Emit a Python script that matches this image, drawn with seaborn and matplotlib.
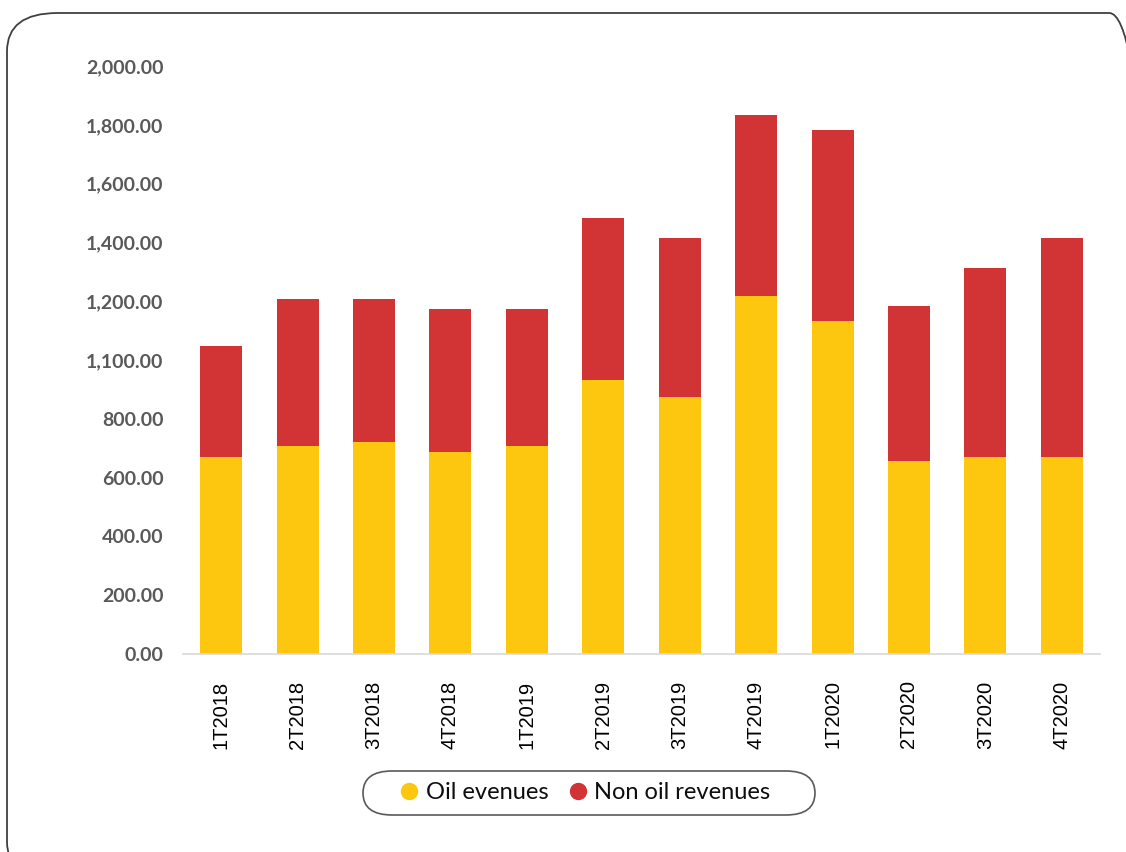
import matplotlib
matplotlib.use("Agg")
import matplotlib.pyplot as plt
from matplotlib.patches import FancyBboxPatch
from matplotlib.lines import Line2D
import seaborn as sns
import pandas as pd

# Quarterly revenues
quarters = ["1T2018", "2T2018", "3T2018", "4T2018",
            "1T2019", "2T2019", "3T2019", "4T2019",
            "1T2020", "2T2020", "3T2020", "4T2020"]
oil_revenues = [670, 707, 721, 687, 707, 932, 874, 1218, 1133, 656, 670, 670]
non_oil_revenues = [378, 500, 486, 486, 466, 551, 541, 615, 649, 528, 643, 745]

y_ticks = [0, 200, 400, 600, 800, 1000, 1200, 1400, 1600, 1800, 2000]
y_tick_labels = ["0.00", "200.00", "400.00", "600.00", "800.00", "1,100.00",
                 "1,200.00", "1,400.00", "1,600.00", "1,800.00", "2,000.00"]

series_names = ["Oil evenues", "Non oil revenues"]
oil_color = "#FDC60F"
non_oil_color = "#D23335"

df = pd.DataFrame({
    "quarter": quarters,
    "oil": oil_revenues,
    "non_oil": non_oil_revenues,
})
df["total"] = df["oil"] + df["non_oil"]

sns.set_style("white")
fig = plt.figure(figsize=(11.26, 8.52), dpi=100)
ax = fig.add_axes([0.1625, 0.2324, 0.8144, 0.6901])

# Stacked bars: full total in red, oil share drawn over it in yellow
sns.barplot(data=df, x="quarter", y="total", color=non_oil_color,
            width=0.55, saturation=1, linewidth=0, ax=ax, order=quarters)
sns.barplot(data=df, x="quarter", y="oil", color=oil_color,
            width=0.55, saturation=1, linewidth=0, ax=ax, order=quarters)

ax.set_ylim(0, 2000)
ax.set_xlim(-0.5, len(quarters) - 0.5)
ax.set_yticks(y_ticks)
ax.set_yticklabels(y_tick_labels, fontfamily="Lato", fontweight="bold",
                   fontsize=14, color="#595959")
ax.set_xticks(range(len(quarters)))
ax.set_xticklabels(quarters, rotation=90, fontfamily="Liberation Sans",
                   fontsize=14.5, color="#000000")
ax.tick_params(axis="both", length=0)
ax.tick_params(axis="y", pad=14)
ax.tick_params(axis="x", pad=19)
ax.set_xlabel("")
ax.set_ylabel("")
for side in ["top", "right", "left"]:
    ax.spines[side].set_visible(False)
ax.spines["bottom"].set_color("#D9D9D9")
ax.spines["bottom"].set_linewidth(1.2)
ax.grid(False)

# Legend without frame; pill-shaped outline drawn separately
handles = [
    Line2D([], [], marker="o", linestyle="", markersize=11.5,
           markerfacecolor=oil_color, markeredgecolor=oil_color),
    Line2D([], [], marker="o", linestyle="", markersize=11.5,
           markerfacecolor=non_oil_color, markeredgecolor=non_oil_color),
]
leg = fig.legend(handles, series_names, loc="center",
                 bbox_to_anchor=(0.5185, 0.0693), ncol=2, frameon=False,
                 prop={"family": "Lato", "size": 17}, handletextpad=0.2,
                 columnspacing=0.75, handlelength=1.0, labelcolor="#0D0D0D")

W, H = 1126.0, 852.0
pill = FancyBboxPatch((363 / W, 1 - 815 / H), (815 - 363) / W, 44 / H,
                      boxstyle="round,pad=0,rounding_size=0.0258",
                      transform=fig.transFigure, facecolor="none",
                      edgecolor="#595959", linewidth=1.2)
fig.patches.append(pill)

# Outer rounded frame of the chart area
frame = FancyBboxPatch((7 / W, 1 - 880 / H), (1160 - 7) / W, (880 - 13) / H,
                       boxstyle="round,pad=0,rounding_size=0.045",
                       transform=fig.transFigure, facecolor="none",
                       edgecolor="#404040", linewidth=1.3)
fig.patches.append(frame)

fig.savefig("out.png", dpi=100)
